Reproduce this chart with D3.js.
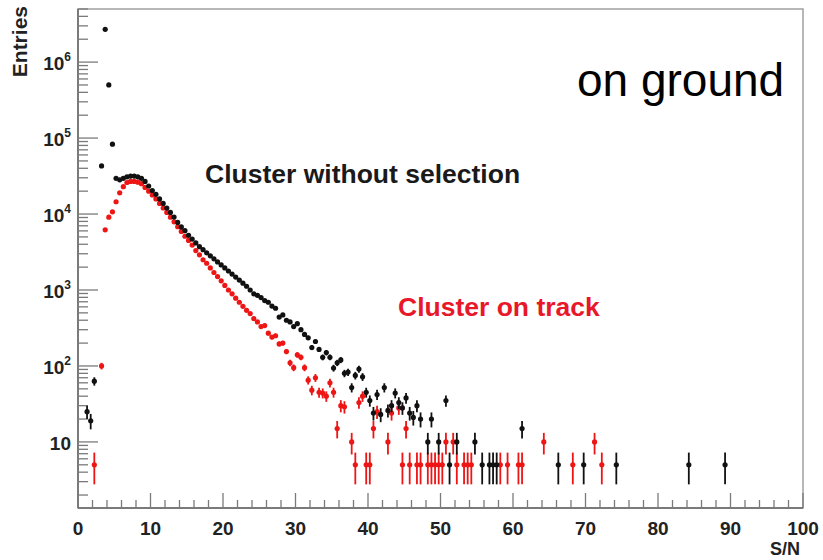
<!DOCTYPE html>
<html><head><meta charset="utf-8">
<script src="https://cdn.jsdelivr.net/npm/d3@7"></script>
<style>body{margin:0;background:#fff}svg{display:block}</style>
</head><body>
<svg id="c" width="823" height="560"></svg>
<script>
// ---- data (bin centres in S/N, entries) ----
const snBlack = [1.25,1.75,2.25,3.25,3.75,4.25,4.75,
 5.25,5.75,6.25,6.75,7.25,7.75,8.25,8.75,9.25,9.75,10.25,10.75,11.25,11.75,12.25,12.75,13.25,13.75,14.25,14.75,
 15.25,15.75,16.25,16.75,17.25,17.75,18.25,18.75,19.25,19.75,20.25,20.75,21.25,21.75,22.25,22.75,23.25,23.75,24.25,24.75,
 25.25,25.75,26.25,26.75,27.25,27.75,28.25,28.75,29.25,29.75,30.25,30.75,31.25,31.75,32.25,32.75,33.25,33.75,34.25,34.75,
 35.25,35.75,36.25,36.75,37.25,37.75,38.25,38.75,39.25,39.75,40.25,40.75,41.25,41.75,42.25,42.75,43.25,43.75,44.25,44.75,
 45.25,45.75,46.25,46.75,47.25,48.25,48.75,49.75,50.75,51.25,52.25,54.75,55.75,56.75,57.25,57.75,61.25,66.25,69.75,74.25,84.25,89.25];
const valBlack = [25,19,63,43000,2700000,500000,83000,
 29500,28200,29500,30900,31600,31600,30900,29500,26900,23400,20400,18200,15800,13800,12000,10500,9120,7760,6760,6030,
 5250,4680,4170,3720,3390,3090,2820,2570,2340,2140,1950,1780,1620,1480,1350,1230,1120,1000,890,850,
 795,725,690,615,575,440,470,400,380,330,360,300,260,235,175,210,165,130,150,130,
 94,110,120,80,83,52,75,91,72,45,35,24,42,23,52,26,30,44,33,28,
 38,24,21,30,20,10,20,10,35,5,10,10,5,5,5,5,15,5,5,5,5,5];

const snRed = [2.25,3.25,3.75,4.25,4.75,5.25,5.75,6.25,6.75,7.25,7.75,8.25,8.75,9.25,9.75,10.25,10.75,11.25,11.75,
 12.25,12.75,13.25,13.75,14.25,14.75,15.25,15.75,16.25,16.75,17.25,17.75,18.25,18.75,19.25,19.75,20.25,20.75,
 21.25,21.75,22.25,22.75,23.25,23.75,24.25,24.75,25.25,25.75,26.25,26.75,27.25,27.75,28.25,28.75,29.25,29.75,
 30.25,30.75,31.25,31.75,32.25,32.75,33.25,33.75,34.25,34.75,35.25,35.75,36.25,36.75,37.75,38.25,38.75,39.25,
 39.75,40.25,40.75,41.25,42.75,43.25,44.25,44.75,45.25,45.75,46.75,47.25,48.25,48.75,49.25,49.75,50.25,50.75,
 51.75,52.25,53.25,53.75,54.25,58.25,59.25,60.75,61.25,64.25,68.25,71.25,72.25];
const valRed = [5,100,6200,9100,10700,14500,19000,22900,26000,26900,26900,26300,25100,22400,20000,17800,15800,13800,12000,
 10500,9100,7900,6800,5900,5100,4500,3900,3300,2900,2500,2250,1950,1700,1500,1320,1150,1000,
 890,780,690,610,540,490,420,380,330,340,270,240,250,195,200,155,110,95,
 140,130,95,65,48,70,45,44,40,60,45,15,30,29,10,5,33,40,
 5,5,15,25,10,24,28,5,15,5,5,5,5,5,5,5,5,10,
 10,5,5,5,5,5,5,5,5,10,5,10,5];

const xTickValues = [0,10,20,30,40,50,60,70,80,90,100];
const yTickExps = [1,2,3,4,5,6];
const binHalfWidth = 0.25;

// ---- layout ----
const L = 78, R = 803, T = 9, B = 508;
const svg = d3.select("#c");
const x = d3.scaleLinear().domain([0,100]).range([L,R]);
const y = d3.scaleLog().domain([1.35, 5e6]).range([B,T]);
const FF = "Liberation Sans, Arial, sans-serif";
const frameCol = "#7a7a7a";

// frame
svg.append("rect").attr("x",L).attr("y",T).attr("width",R-L).attr("height",B-T)
  .attr("fill","none").attr("stroke","#a0a0a0").attr("stroke-width",1.5);

// x axis ticks (inward, pointing up)
const xMinor = d3.range(0,100.001,2);
svg.append("g").selectAll("line").data(xMinor).join("line")
  .attr("x1",d=>x(d)).attr("x2",d=>x(d))
  .attr("y1",B).attr("y2",d=>B-(d%10===0?15:8))
  .attr("stroke",frameCol).attr("stroke-width",1.3);
svg.append("line").attr("x1",L).attr("x2",R).attr("y1",B).attr("y2",B)
  .attr("stroke",frameCol).attr("stroke-width",2);
svg.append("g").selectAll("text").data(xTickValues).join("text")
  .attr("x",d=>x(d)).attr("y",B+27).attr("text-anchor","middle")
  .attr("font-family",FF).attr("font-weight","bold")
  .attr("font-size",19).attr("fill","#222").text(d=>d);

// y axis ticks
const yMinor = [];
for (let e=0;e<=6;e++) for (let m=1;m<=9;m++){ const v=m*Math.pow(10,e); if(v>=1.35 && v<=5e6) yMinor.push({v, major:m===1}); }
svg.append("g").selectAll("line").data(yMinor).join("line")
  .attr("x1",L).attr("x2",d=>L+(d.major?20:10))
  .attr("y1",d=>y(d.v)).attr("y2",d=>y(d.v))
  .attr("stroke",frameCol).attr("stroke-width",1.3);
svg.append("line").attr("x1",L).attr("x2",L).attr("y1",T).attr("y2",B)
  .attr("stroke",frameCol).attr("stroke-width",2);
const yl = svg.append("g").selectAll("text").data(yTickExps).join("text")
  .attr("x",71).attr("y",d=>y(Math.pow(10,d))+8).attr("text-anchor","end")
  .attr("font-family",FF).attr("font-weight","bold")
  .attr("font-size",19).attr("fill","#222");
yl.append("tspan").text("10");
yl.filter(d=>d>1).append("tspan").attr("dy",-9).attr("font-size",12).text(d=>d);

// axis titles
svg.append("text").attr("transform","translate(27,6) rotate(-90)").attr("text-anchor","end")
  .attr("font-family",FF).attr("font-weight","bold")
  .attr("font-size",21).attr("fill","#222").text("Entries");
svg.append("text").attr("x",800).attr("y",555).attr("text-anchor","end")
  .attr("font-family",FF).attr("font-weight","bold")
  .attr("font-size",18).attr("fill","#222").text("S/N");

// series drawing
function drawSeries(sn, vals, col){
  const data = sn.map((s,i)=>({s, v:vals[i]}));
  const g = svg.append("g");
  const lo = d=>Math.max(d.v-Math.sqrt(d.v),1.35), hi = d=>d.v+Math.sqrt(d.v);
  g.selectAll("line.v").data(data).join("line").attr("class","v")
    .attr("x1",d=>x(d.s)).attr("x2",d=>x(d.s))
    .attr("y1",d=>y(lo(d))).attr("y2",d=>y(hi(d)))
    .attr("stroke",col).attr("stroke-width",1.8);
  g.selectAll("line.h").data(data).join("line").attr("class","h")
    .attr("x1",d=>x(d.s-binHalfWidth)).attr("x2",d=>x(d.s+binHalfWidth))
    .attr("y1",d=>y(d.v)).attr("y2",d=>y(d.v))
    .attr("stroke",col).attr("stroke-width",1.8);
  g.selectAll("circle").data(data).join("circle")
    .attr("cx",d=>x(d.s)).attr("cy",d=>y(d.v)).attr("r",2.6).attr("fill",col);
}
drawSeries(snRed, valRed, "#ee1515");
drawSeries(snBlack, valBlack, "#111");

// annotations
svg.append("text").attr("x",205).attr("y",183)
  .attr("font-family",FF).attr("font-weight","bold")
  .attr("font-size",26.5).attr("fill","#1a1a1a").text("Cluster without selection");
svg.append("text").attr("x",398).attr("y",316)
  .attr("font-family",FF).attr("font-weight","bold")
  .attr("font-size",26.5).attr("fill","#e8182a").text("Cluster on track");
svg.append("text").attr("x",577).attr("y",96)
  .attr("font-family",FF)
  .attr("font-size",46).attr("fill","#000").text("on ground");
</script>
</body></html>
